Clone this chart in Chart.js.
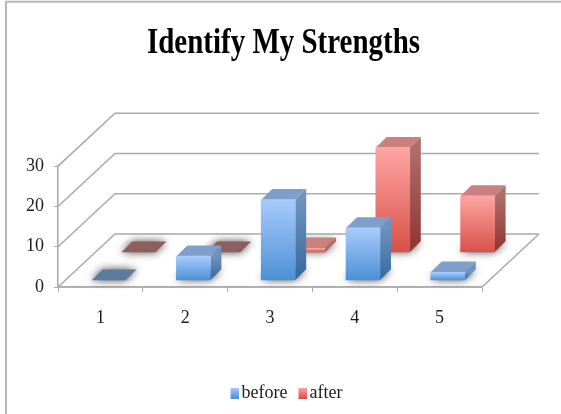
<!DOCTYPE html>
<html><head><meta charset="utf-8">
<style>html,body{margin:0;padding:0;background:#fff}canvas{display:block}</style>
<script src="https://cdn.jsdelivr.net/npm/chart.js@4"></script>
</head><body>
<canvas id="c" width="561" height="414"></canvas>
<script>
const chartTitle = "Identify My Strengths";
const categories = ["1","2","3","4","5"];
const seriesNames = ["before","after"];
const beforeValues = [0,6,20,13,2];
const afterValues = [0,0,1,26,14];
const yMax = 30;
const yStep = 10;

const FONT = '"Liberation Serif"';
const LINE = '#ababab';
const TEXT = '#1c1c1c';
const DEPTH = {dx:57, dy:-53};
const BAR = {dx:11, dy:-10.7};
const ROW = [{dx:8.2, dy:-6.7},{dx:38, dy:-34.7}];
const LOOK = [
 {top:'#a9cbfd',bottom:'#4c90d4',lid:'#7f9fca',sideTop:'#6f92bf',sideBottom:'#37699c',flat:'#5d7a9f'},
 {top:'#fea5a2',bottom:'#d8504a',lid:'#c98180',sideTop:'#b06d6b',sideBottom:'#8e352f',flat:'#8e5e5c'}
];

function fillGradient(ctx, look){
  const c = ctx.chart;
  if (ctx.type !== 'data') return look.bottom;
  const y = c.scales.y;
  const g = c.ctx.createLinearGradient(0,y.getPixelForValue(ctx.raw),0,y.getPixelForValue(0));
  g.addColorStop(0,look.top); g.addColorStop(1,look.bottom);
  return g;
}
function legendSwatch(look){
  const cv=document.createElement('canvas'); cv.width=14; cv.height=11;
  const x=cv.getContext('2d'), g=x.createLinearGradient(0,0,0,11);
  g.addColorStop(0,look.top); g.addColorStop(1,look.bottom);
  x.fillStyle=g; x.fillRect(5.5,0,8.5,11);
  return cv;
}
function poly(ctx, pts){
  ctx.beginPath();
  pts.forEach((p,i)=> i?ctx.lineTo(p[0],p[1]):ctx.moveTo(p[0],p[1]));
  ctx.closePath();
}
function wrapDraw(box, fn){
  const orig=box.draw.bind(box);
  box.draw=function(){ const c=box.ctx; c.save(); fn(c,box); orig(); c.restore(); };
}
const box3d = {
  id:'box3d',
  afterInit(chart){
    wrapDraw(chart.titleBlock,(c,b)=>{ const m=(b.left+b.right)/2; c.translate(m,0); c.scale(0.805,1); c.translate(-m,0); });
    wrapDraw(chart.legend,(c)=>{ c.translate(3.5,-2); });
  },
  beforeDraw(chart){
    const {ctx,width,height} = chart;
    ctx.save();
    ctx.fillStyle='#fff'; ctx.fillRect(0,0,width,height);
    ctx.strokeStyle='#b8b8b8'; ctx.lineWidth=2;
    ctx.beginPath(); ctx.moveTo(6,height); ctx.lineTo(6,1.8); ctx.lineTo(width,1.8); ctx.stroke();
    ctx.restore();
  },
  beforeDatasetsDraw(chart){
    const {ctx,chartArea:a,scales:{y}} = chart;
    ctx.save();
    ctx.strokeStyle=LINE; ctx.lineWidth=1.6;
    y.ticks.forEach(t=>{
      const py=y.getPixelForValue(t.value);
      ctx.beginPath();
      ctx.moveTo(a.left,py);
      ctx.lineTo(a.left+DEPTH.dx,py+DEPTH.dy);
      ctx.lineTo(a.right+DEPTH.dx,py+DEPTH.dy);
      ctx.stroke();
    });
    const b=y.getPixelForValue(0);
    ctx.beginPath();
    ctx.moveTo(a.right+DEPTH.dx,b+DEPTH.dy);
    ctx.lineTo(a.right,b);
    ctx.lineTo(a.left,b);
    ctx.stroke();
    ctx.restore();
  },
  beforeDatasetDraw(chart,args){
    const {ctx} = chart, i=args.index, look=LOOK[i], r=ROW[i];
    ctx.save();
    ctx.translate(r.dx,r.dy);
    const els=args.meta.data, vals=chart.data.datasets[i].data;
    els.forEach((el,k)=>{
      const x0=el.x-el.width/2, x1=el.x+el.width/2, top=el.y, base=el.base;
      const foot=[[x0,base],[x1,base],[x1+BAR.dx,base+BAR.dy],[x0+BAR.dx,base+BAR.dy]];
      ctx.save();
      ctx.shadowColor='rgba(0,0,0,0.75)'; ctx.shadowBlur=9;
      ctx.fillStyle=vals[k]===0?look.flat:look.sideBottom;
      poly(ctx,foot); ctx.fill();
      ctx.restore();
      if(vals[k]===0) return;
      const g=ctx.createLinearGradient(0,top,0,base);
      g.addColorStop(0,look.sideTop); g.addColorStop(1,look.sideBottom);
      ctx.fillStyle=g;
      poly(ctx,[[x1,top],[x1+BAR.dx,top+BAR.dy],[x1+BAR.dx,base+BAR.dy],[x1,base]]); ctx.fill();
      ctx.fillStyle=look.lid;
      poly(ctx,[[x0,top],[x1,top],[x1+BAR.dx,top+BAR.dy],[x0+BAR.dx,top+BAR.dy]]); ctx.fill();
    });
  },
  afterDatasetDraw(chart){ chart.ctx.restore(); }
};

new Chart(document.getElementById('c'),{
  type:'bar',
  plugins:[box3d],
  data:{labels:categories,datasets:[
    {label:seriesNames[0],data:beforeValues,backgroundColor:c=>fillGradient(c,LOOK[0]),grouped:false,barThickness:34,borderWidth:0,clip:false},
    {label:seriesNames[1],data:afterValues,backgroundColor:c=>fillGradient(c,LOOK[1]),grouped:false,barThickness:34,borderWidth:0,clip:false}
  ]},
  options:{
    responsive:false,animation:false,
    layout:{padding:{left:6,right:0,top:0,bottom:0}},
    plugins:{
      title:{display:true,text:chartTitle,color:'#000',font:{family:FONT,size:36,weight:'bold'},padding:{top:22,bottom:101}},
      legend:{position:'bottom',labels:{color:TEXT,font:{family:FONT,size:18},usePointStyle:true,pointStyleWidth:1,boxHeight:10,padding:12,
        generateLabels:c=>seriesNames.map((n,i)=>({text:n,pointStyle:legendSwatch(LOOK[i]),fillStyle:LOOK[i].bottom,strokeStyle:'transparent',lineWidth:0,datasetIndex:i,fontColor:TEXT}))}},
      tooltip:{enabled:false}
    },
    scales:{
      x:{grid:{drawOnChartArea:false,color:LINE,tickLength:5,offset:true},border:{display:true,color:LINE,width:1.6},
         ticks:{color:TEXT,font:{family:FONT,size:18},padding:15,maxRotation:0},
         afterFit(s){s.height=87;}},
      y:{min:0,max:yMax,grid:{drawOnChartArea:false,color:LINE,tickLength:4},border:{display:true,color:LINE,width:1.6},
         ticks:{stepSize:yStep,color:TEXT,font:{family:FONT,size:18},padding:10},
         afterFit(s){s.width=52;}},
      spare:{position:'right',display:true,min:0,max:1,grid:{display:false},border:{display:false},ticks:{display:false},afterFit(s){s.width=79;}}
    }
  }
});
</script>
</body></html>
